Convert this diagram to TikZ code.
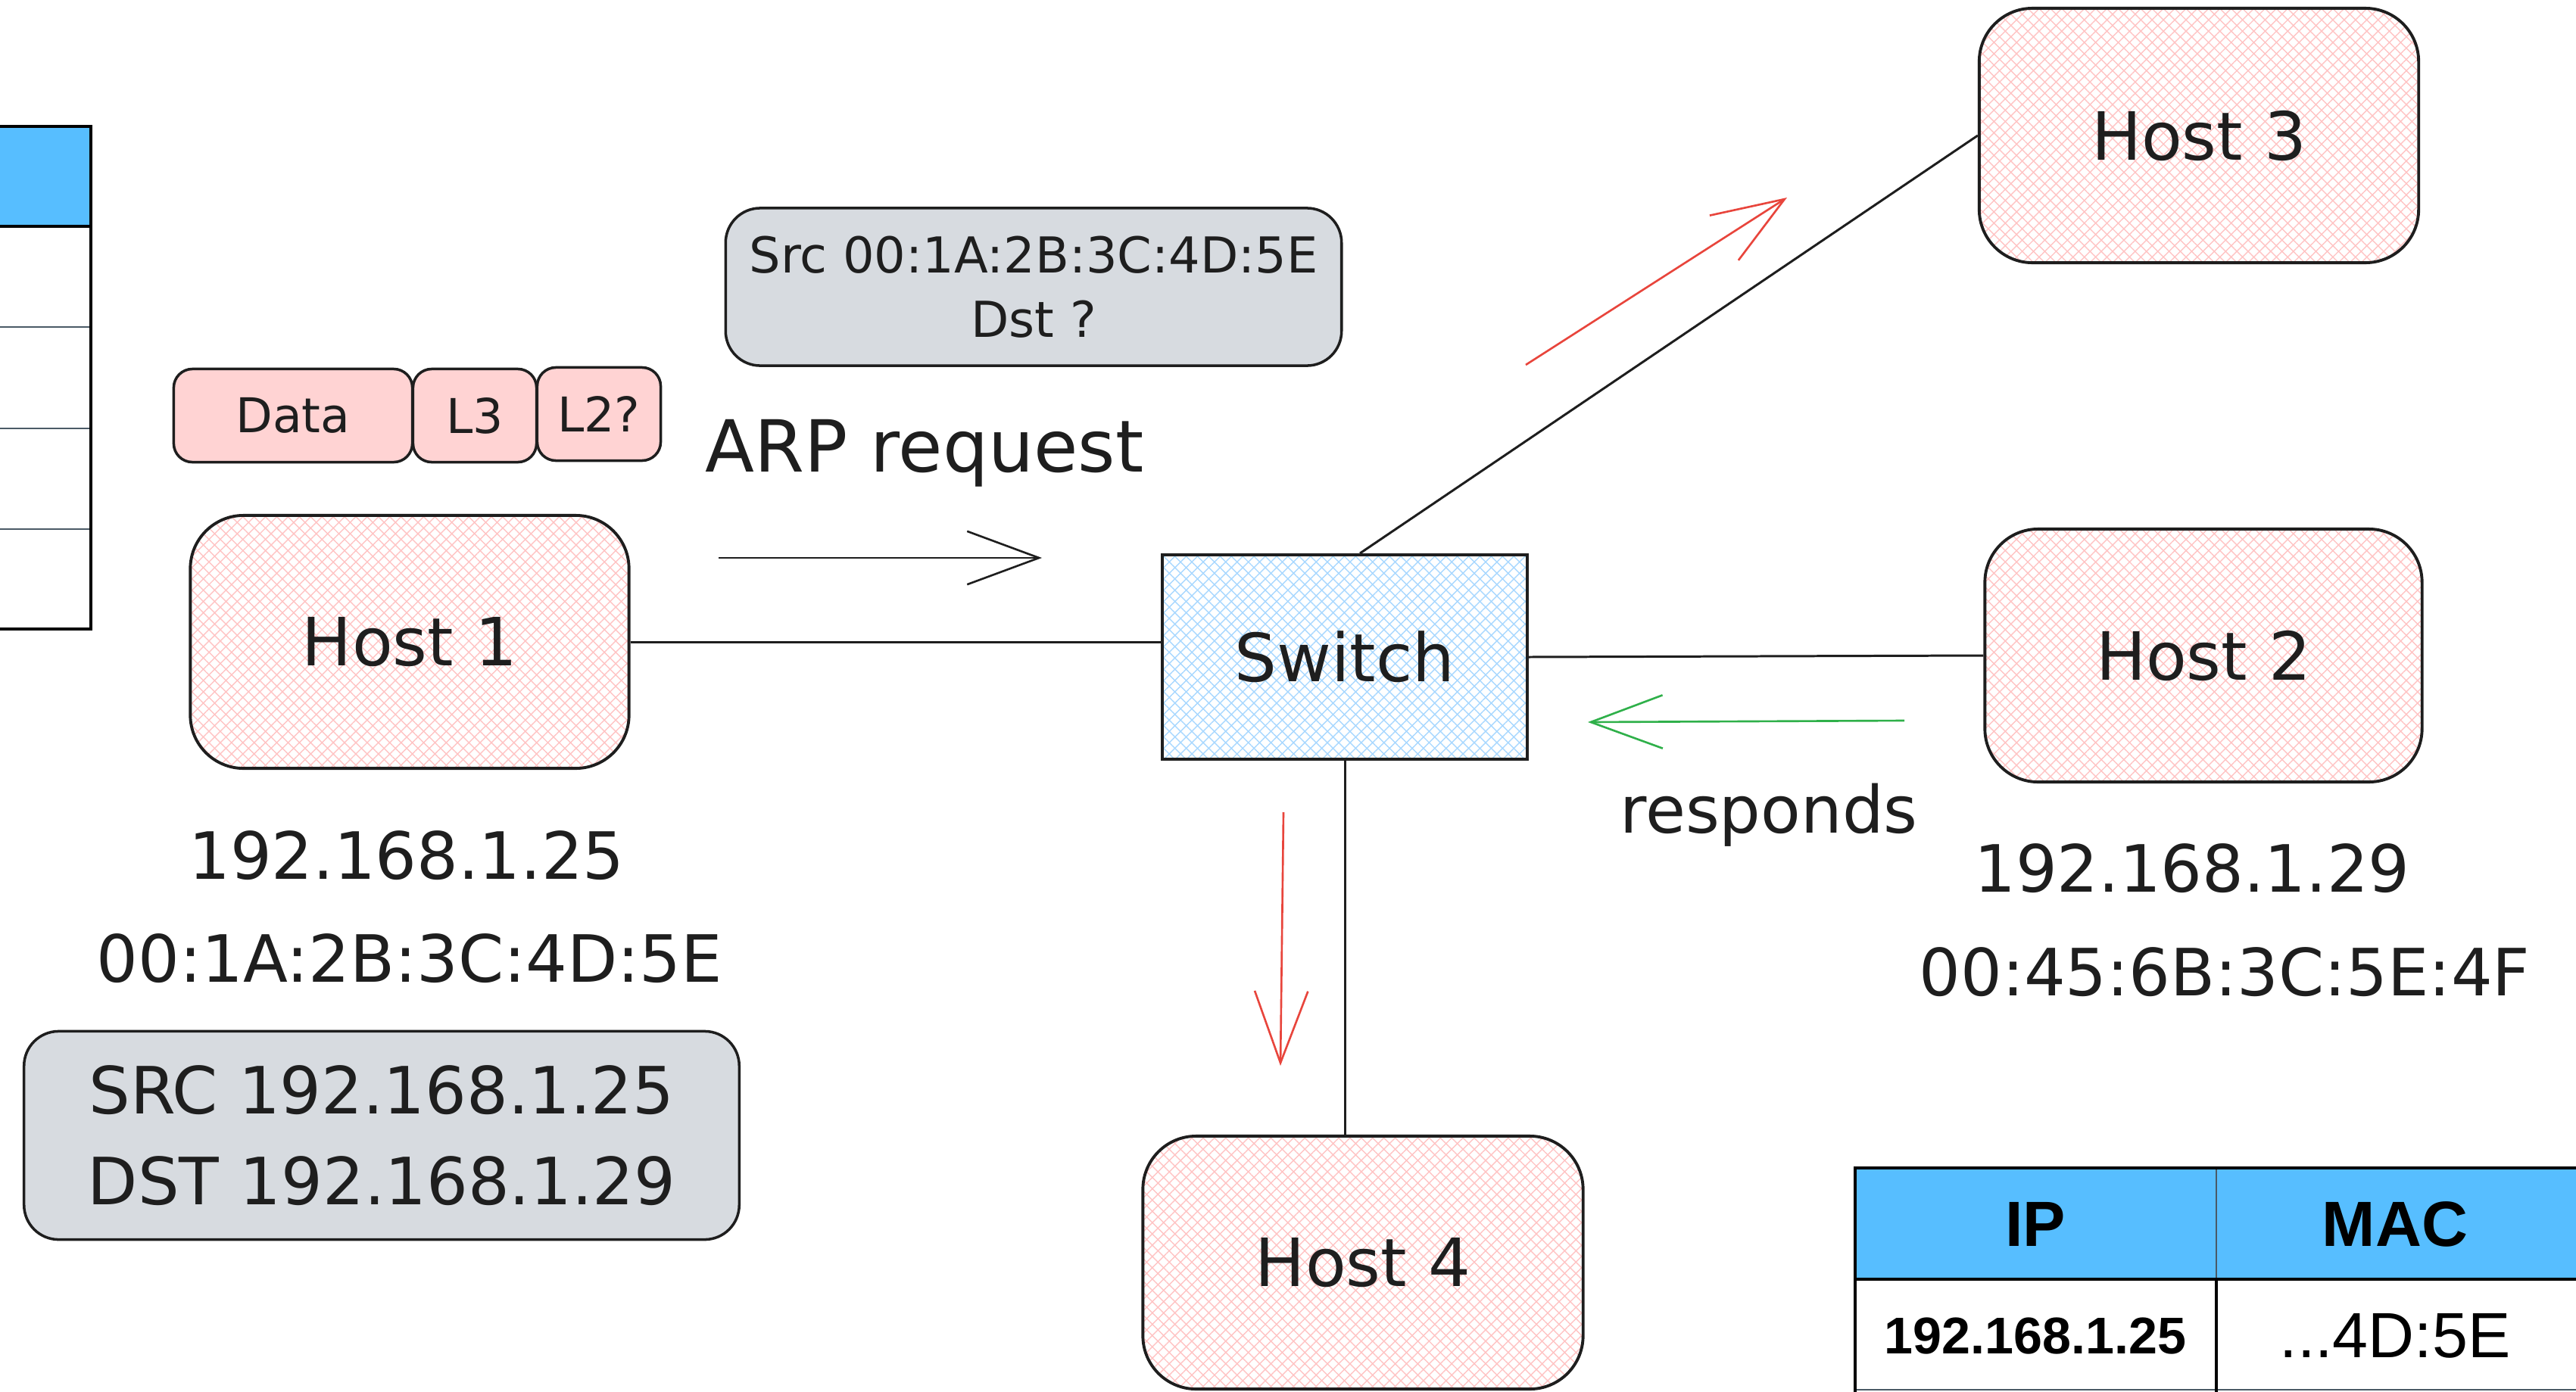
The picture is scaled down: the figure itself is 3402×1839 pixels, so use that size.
\documentclass[tikz,border=0pt]{standalone}
\usepackage{fontspec}
\setmainfont{DejaVu Sans}
\newfontfamily\tablefont{Liberation Sans}
\usetikzlibrary{arrows.meta, patterns.meta}
\definecolor{ink}{HTML}{1E1E1E}
\definecolor{hostpink}{HTML}{FFC4C4}
\definecolor{swblue}{HTML}{A8D8FF}
\definecolor{pktpink}{HTML}{FFD3D3}
\definecolor{boxgray}{RGB}{215,219,224}
\definecolor{headblue}{RGB}{87,190,255}
\definecolor{arrred}{HTML}{E8453C}
\definecolor{arrgreen}{HTML}{2FB04A}
\definecolor{rulegray}{HTML}{4A5A66}

\begin{document}
\begin{tikzpicture}[x=0.01cm,y=-0.01cm]
						\tikzstyle{host} = [draw=ink,line width=1.1pt,rounded corners=20pt,text=ink,inner sep=0pt,
							preaction={fill=white},
							preaction={pattern={Lines[angle=45,distance=3pt,line width=0.4pt]},pattern color=hostpink},
							preaction={pattern={Lines[angle=-45,distance=3pt,line width=0.4pt]},pattern color=hostpink},
							font=\fontsize{25}{30}\selectfont]
						\tikzstyle{switch} = [draw=ink,line width=1.1pt,text=ink,inner sep=0pt,
							preaction={fill=white},
							preaction={pattern={Lines[angle=45,distance=3pt,line width=0.4pt]},pattern color=swblue},
							preaction={pattern={Lines[angle=-45,distance=3pt,line width=0.4pt]},pattern color=swblue},
							font=\fontsize{25}{30}\selectfont]
						\tikzstyle{pkt} = [draw=ink,line width=1pt,rounded corners=7pt,fill=pktpink,text=ink,inner sep=0pt,
							minimum height=1.23cm,font=\fontsize{18}{22}\selectfont]
						\tikzstyle{graybox} = [draw=ink,line width=1pt,rounded corners=13pt,fill=boxgray,text=ink,inner sep=0pt,align=center]
						\tikzstyle{label} = [text=ink,anchor=base,inner sep=0pt,font=\fontsize{24.5}{30}\selectfont]
						\tikzstyle{cell} = [text=black,inner sep=0pt]
						\tikzstyle{edge} = [draw=ink,line width=0.85pt]
						\tikzstyle{flow} = [line width=0.75pt,-{Straight Barb[length=27pt,width=20pt]}]
						\useasboundingbox (0,0) rectangle (3402,1839);
						\clip (0,0) rectangle (3402,1839);
						% cache table cut at the left edge
						\fill[headblue] (-20,167) rectangle (120,299);
						\draw[rulegray,line width=0.6pt] (-20,432) -- (120,432) (-20,566) -- (120,566) (-20,699) -- (120,699);
						\draw[black,line width=1.2pt] (-20,167) -- (120,167) -- (120,831) -- (-20,831);
						\draw[black,line width=1.2pt] (-20,299) -- (120,299);
						% hosts and switch
						\node[host,minimum width=5.79cm,minimum height=3.34cm] (h1) at (541,848) {Host 1};
						\node[host,minimum width=5.77cm,minimum height=3.34cm] (h2) at (2910,866) {Host 2};
						\node[host,minimum width=5.80cm,minimum height=3.36cm] (h3) at (2904,179) {Host 3};
						\node[host,minimum width=5.81cm,minimum height=3.34cm] (h4) at (1800,1668) {Host 4};
						\node[switch,minimum width=4.81cm,minimum height=2.70cm] (sw) at (1776,868) {Switch};
						\draw[edge] (h1.east)--(h1.east -| sw.west);
						\draw[edge] (sw.east)--(h2.west);
						\draw[edge] ([xshift=0.2cm]sw.north)--(h3.west);
						\draw[edge] (sw.south)--(sw.south |- h4.north);
						% frame being sent
						\node[pkt,minimum width=3.15cm] (pdata) at (387,549) {Data};
						\node[pkt,minimum width=1.63cm] (pl3) at (627,549) {L3};
						\node[pkt,minimum width=1.63cm] (pl2) at (791,547) {L2?};
						\node[graybox,minimum width=8.13cm,minimum height=2.08cm,font=\fontsize{18.6}{24}\selectfont] (arpmsg) at (1365,379) {Src 00:1A:2B:3C:4D:5E\\Dst ?};
						\node[graybox,minimum width=9.44cm,minimum height=2.75cm,font=\fontsize{24.5}{34}\selectfont] (ipmsg) at (504,1500) {SRC 192.168.1.25\\DST 192.168.1.29};
						% addresses
						\node[label] (h1ip) at (537,1161) {192.168.1.25};
						\node[label] (h1mac) at (541,1297) {00:1A:2B:3C:4D:5E};
						\node[label] (h2ip) at (2895,1178) {192.168.1.29};
						\node[label] (h2mac) at (2938,1315) {00:45:6B:3C:5E:4F};
						\node[label,font=\fontsize{27}{32}\selectfont] (arp) at (1221,623) {ARP request};
						\node[label] (resp) at (2336,1100) {responds};
						% arrows
						\coordinate (a1) at (949,737);
						\coordinate (a2) at (1376,737);
						\coordinate (g1) at (2515,952);
						\coordinate (g2) at (2097,954);
						\coordinate (r1) at (2015,482);
						\coordinate (r2) at (2360,261);
						\coordinate (d1) at (1695,1073);
						\coordinate (d2) at (1691,1408);
						\draw[flow,ink] (a1)--(a2);
						\draw[flow,arrgreen] (g1)--(g2);
						\draw[flow,arrred] (r1)--(r2);
						\draw[flow,arrred] (d1)--(d2);
						% arp table
						\fill[headblue] (2450,1543) rectangle (3420,1690);
						\draw[rulegray,line width=0.6pt] (2927,1543) -- (2927,1690);
						\draw[rulegray,line width=0.6pt] (2450,1836) -- (3420,1836);
						\draw[black,line width=1.2pt] (2927,1690) -- (2927,1850);
						\draw[black,line width=1.2pt] (3420,1543) -- (2450,1543) -- (2450,1850);
						\draw[black,line width=1.2pt] (2450,1690) -- (3420,1690);
						\node[cell,font=\tablefont\bfseries\fontsize{24}{28}\selectfont] (ip) at (2688,1617) {IP};
						\node[cell,font=\tablefont\bfseries\fontsize{24}{28}\selectfont] (mac) at (3163,1617) {MAC};
						\node[cell,font=\tablefont\bfseries\fontsize{19.4}{24}\selectfont] (ip1) at (2688,1765) {192.168.1.25};
						\node[cell,font=\tablefont\fontsize{24}{28}\selectfont] (mac1) at (3163,1765) {...4D:5E};
						\end{tikzpicture}
\end{document}
